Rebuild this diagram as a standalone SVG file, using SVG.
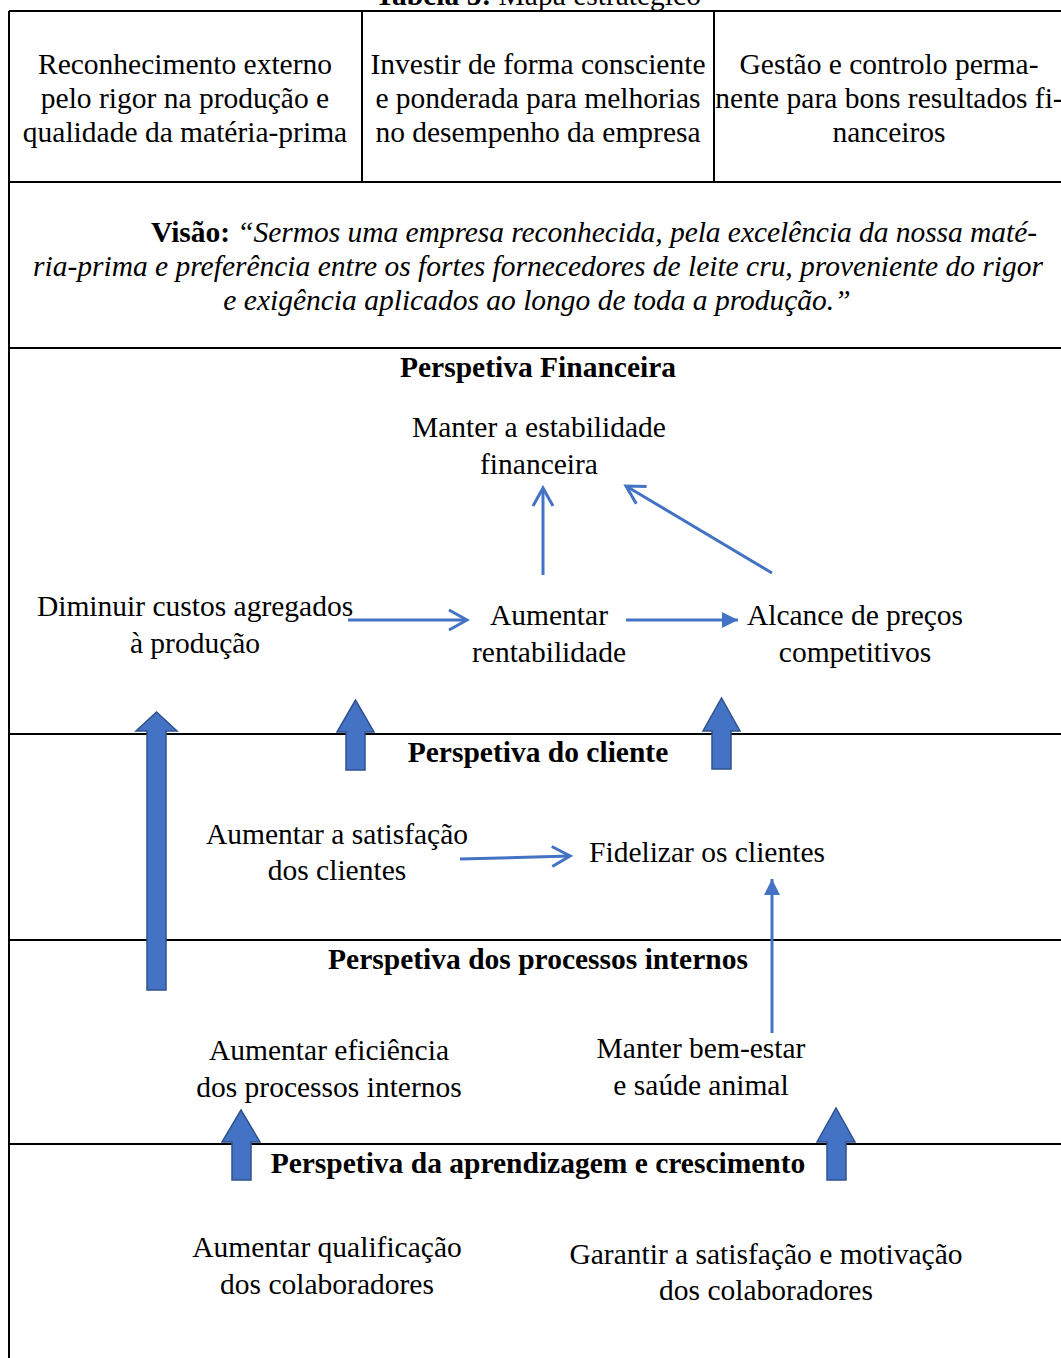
<svg xmlns="http://www.w3.org/2000/svg" width="1061" height="1358" viewBox="0 0 1061 1358">
<style>
text{font-family:"Liberation Serif","Times New Roman",serif;font-size:29.5px;fill:#000;text-anchor:middle}
.b{font-weight:bold}
.i{font-style:italic}
.grid{stroke:#000;stroke-width:2;fill:none}
.conn{stroke:#4472C4;stroke-width:3;fill:none}
.block{fill:#4472C4;stroke:#2F528F;stroke-width:1.5}
</style>
<defs>
<marker id="open" markerUnits="userSpaceOnUse" markerWidth="24" markerHeight="24" viewBox="0 0 24 24" refX="21" refY="12" orient="auto">
<path d="M3,2 L21,12 L3,22" fill="none" stroke="#4472C4" stroke-width="3"/>
</marker>
<marker id="tri" markerUnits="userSpaceOnUse" markerWidth="18" markerHeight="18" viewBox="0 0 18 18" refX="17" refY="9" orient="auto">
<path d="M1,1 L17,9 L1,17 Z" fill="#4472C4"/>
</marker>
</defs>

<text id="title" x="538" y="5"><tspan class="b">Tabela 5:</tspan> Mapa estratégico</text>

<g id="table">
<line class="grid" x1="9" y1="11" x2="1061" y2="11"/>
<line class="grid" x1="9" y1="11" x2="9" y2="1358"/>
<line class="grid" x1="362" y1="11" x2="362" y2="182"/>
<line class="grid" x1="714" y1="11" x2="714" y2="182"/>
<line class="grid" x1="9" y1="182" x2="1061" y2="182"/>
<line class="grid" x1="9" y1="348" x2="1061" y2="348"/>
<line class="grid" x1="9" y1="734" x2="1061" y2="734"/>
<line class="grid" x1="9" y1="940" x2="1061" y2="940"/>
<line class="grid" x1="9" y1="1144" x2="1061" y2="1144"/>
</g>

<g id="values-1">
<text x="185" y="74">Reconhecimento externo</text>
<text x="185" y="108">pelo rigor na produção e</text>
<text x="185" y="142">qualidade da matéria-prima</text>
</g>
<g id="values-2">
<text x="538" y="74">Investir de forma consciente</text>
<text x="538" y="108">e ponderada para melhorias</text>
<text x="538" y="142">no desempenho da empresa</text>
</g>
<g id="values-3">
<text x="889" y="74">Gestão e controlo perma-</text>
<text x="889" y="108">nente para bons resultados fi-</text>
<text x="889" y="142">nanceiros</text>
</g>

<g id="vision">
<text x="151" y="242" style="text-anchor:start" textLength="886" lengthAdjust="spacing"><tspan class="b">Visão:</tspan> <tspan class="i">“Sermos uma empresa reconhecida, pela excelência da nossa maté-</tspan></text>
<text class="i" x="33" y="276" style="text-anchor:start" textLength="1010" lengthAdjust="spacing">ria-prima e preferência entre os fortes fornecedores de leite cru, proveniente do rigor</text>
<text class="i" x="537" y="310">e exigência aplicados ao longo de toda a produção.”</text>
</g>

<text id="h-financeira" class="b" x="538" y="377">Perspetiva Financeira</text>
<g id="n-estabilidade">
<text x="539" y="437">Manter a estabilidade</text>
<text x="539" y="474">financeira</text>
</g>
<g id="n-custos">
<text x="195" y="616">Diminuir custos agregados</text>
<text x="195" y="653">à produção</text>
</g>
<g id="n-rentabilidade">
<text x="549" y="625">Aumentar</text>
<text x="549" y="662">rentabilidade</text>
</g>
<g id="n-precos">
<text x="855" y="625">Alcance de preços</text>
<text x="855" y="662">competitivos</text>
</g>

<text id="h-cliente" class="b" x="538" y="762">Perspetiva do cliente</text>
<g id="n-satisfacao">
<text x="337" y="844">Aumentar a satisfação</text>
<text x="337" y="880">dos clientes</text>
</g>
<g id="n-fidelizar">
<text x="707" y="862">Fidelizar os clientes</text>
</g>

<text id="h-processos" class="b" x="538" y="969">Perspetiva dos processos internos</text>
<g id="n-eficiencia">
<text x="329" y="1060">Aumentar eficiência</text>
<text x="329" y="1097">dos processos internos</text>
</g>
<g id="n-bemestar">
<text x="701" y="1058">Manter bem-estar</text>
<text x="701" y="1095">e saúde animal</text>
</g>

<text id="h-aprendizagem" class="b" x="538" y="1173">Perspetiva da aprendizagem e crescimento</text>
<g id="n-qualificacao">
<text x="327" y="1257">Aumentar qualificação</text>
<text x="327" y="1294">dos colaboradores</text>
</g>
<g id="n-motivacao">
<text x="766" y="1264">Garantir a satisfação e motivação</text>
<text x="766" y="1300">dos colaboradores</text>
</g>

<g id="connectors">
<line class="conn" x1="348" y1="620" x2="467" y2="620" marker-end="url(#open)"/>
<line class="conn" x1="626" y1="620" x2="738" y2="620" marker-end="url(#tri)"/>
<line class="conn" x1="543" y1="575" x2="543" y2="488" marker-end="url(#open)"/>
<line class="conn" x1="772" y1="573" x2="626" y2="486" marker-end="url(#open)"/>
<line class="conn" x1="460" y1="859" x2="570" y2="856" marker-end="url(#open)"/>
<line class="conn" x1="772" y1="1033" x2="772" y2="879" marker-end="url(#tri)"/>
<path class="block" d="M147,990 L147,731 L136,731 L156.5,712 L177,731 L166,731 L166,990 Z"/>
<path class="block" d="M346,770 L346,732 L337,732 L355.5,700 L374,732 L365,732 L365,770 Z"/>
<path class="block" d="M712,769 L712,731 L703,731 L721.5,698 L740,731 L731,731 L731,769 Z"/>
<path class="block" d="M232,1180 L232,1142 L222,1142 L241,1110 L260,1142 L251,1142 L251,1180 Z"/>
<path class="block" d="M827,1180 L827,1142 L817,1142 L836,1108 L855,1142 L846,1142 L846,1180 Z"/>
</g>
</svg>
